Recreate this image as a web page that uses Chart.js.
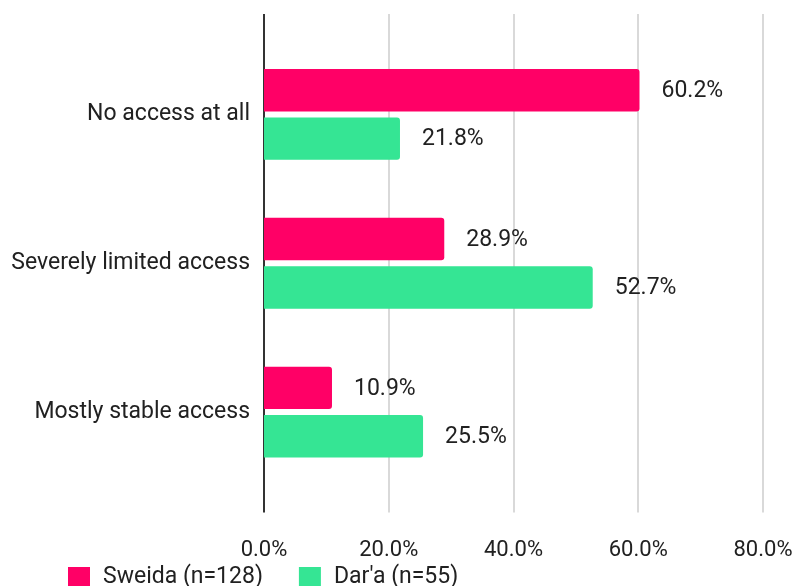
<!DOCTYPE html>
<html>
<head>
<meta charset="utf-8">
<script src="https://cdn.jsdelivr.net/npm/chart.js@4/dist/chart.umd.min.js"></script>
<style>
  html, body { margin: 0; padding: 0; background: #fff; overflow: hidden; }
  #wrap { width: 794px; height: 586px; position: relative; }
</style>
</head>
<body>
<div id="wrap"><canvas id="chart"></canvas></div>
<script>
var categories = ["No access at all", "Severely limited access", "Mostly stable access"];
var seriesNames = ["Sweida (n=128)", "Dar'a (n=55)"];
var sweida = [60.2, 28.9, 10.9];
var dara = [21.8, 52.7, 25.5];
var xTicks = [0, 20, 40, 60, 80];
var colors = ['#ff0066', '#35e594'];

var textColor = '#212121';

// vertical gridlines run a bit past the bars, top and bottom
var gridPlugin = {
    id: 'grid',
    beforeDatasetsDraw: function(chart) {
        var ctx = chart.ctx;
        var area = chart.chartArea;
        var x = chart.scales.x;
        ctx.save();
        xTicks.forEach(function(v) {
            var px = Math.round(x.getPixelForValue(v));
            ctx.beginPath();
            if (v === 0) {
                ctx.strokeStyle = '#333';
                ctx.lineWidth = 2;
            } else {
                ctx.strokeStyle = '#cccccc';
                ctx.lineWidth = 1.5;
            }
            ctx.moveTo(px, area.top - 26);
            ctx.lineTo(px, area.bottom + 26);
            ctx.stroke();
        });
        ctx.restore();
    }
};

var labelPlugin = {
    id: 'valueLabels',
    afterDatasetsDraw: function(chart) {
        var ctx = chart.ctx;
        ctx.save();
        ctx.font = '23px Roboto';
        ctx.fillStyle = textColor;
        ctx.textAlign = 'left';
        ctx.textBaseline = 'middle';
        chart.data.datasets.forEach(function(ds, i) {
            chart.getDatasetMeta(i).data.forEach(function(bar, j) {
                ctx.fillText(ds.data[j].toFixed(1) + '%', bar.x + 22, bar.y + 1);
            });
        });
        ctx.restore();
    }
};

// legend sits at the bottom left, half cut off by the frame
var legendPlugin = {
    id: 'bottomLegend',
    afterDraw: function(chart) {
        var ctx = chart.ctx;
        var x = 68, y = 577;
        ctx.save();
        ctx.font = '23px Roboto';
        ctx.textAlign = 'left';
        ctx.textBaseline = 'middle';
        chart.data.datasets.forEach(function(ds) {
            ctx.fillStyle = ds.backgroundColor;
            ctx.fillRect(x, y - 10, 22, 22);
            ctx.fillStyle = textColor;
            ctx.fillText(ds.label, x + 35, y);
            x += 35 + ctx.measureText(ds.label).width + 36;
        });
        ctx.restore();
    }
};

var chart = new Chart(document.getElementById('chart'), {
    type: 'bar',
    data: {
        labels: categories,
        datasets: [{
            label: seriesNames[0],
            data: sweida,
            backgroundColor: colors[0],
            borderRadius: 3,
            categoryPercentage: 0.651,
            barPercentage: 0.876
        }, {
            label: seriesNames[1],
            data: dara,
            backgroundColor: colors[1],
            borderRadius: 3,
            categoryPercentage: 0.651,
            barPercentage: 0.876
        }]
    },
    options: {
        indexAxis: 'y',
        responsive: true,
        maintainAspectRatio: false,
        devicePixelRatio: 1,
        animation: false,
        layout: {
            padding: { left: 0, right: 31, top: 40, bottom: 0 }
        },
        scales: {
            x: {
                min: 0,
                max: 80,
                grid: { display: false, drawTicks: false },
                border: { display: false },
                afterFit: function(scale) {
                    scale.height = 99.5;
                    scale.paddingRight = 0;
                    scale.paddingLeft = 0;
                },
                ticks: {
                    stepSize: 20,
                    padding: 51,
                    color: textColor,
                    font: { family: 'Roboto', size: 22 },
                    maxRotation: 0,
                    callback: function(v) { return v.toFixed(1) + '%'; }
                }
            },
            y: {
                grid: { display: false, drawTicks: false },
                border: { display: false },
                afterFit: function(scale) { scale.width = 264; },
                ticks: {
                    padding: 14,
                    color: textColor,
                    font: { family: 'Roboto', size: 23 }
                }
            }
        },
        plugins: {
            legend: { display: false },
            tooltip: { enabled: false }
        }
    },
    plugins: [gridPlugin, labelPlugin, legendPlugin]
});
</script>
</body>
</html>
